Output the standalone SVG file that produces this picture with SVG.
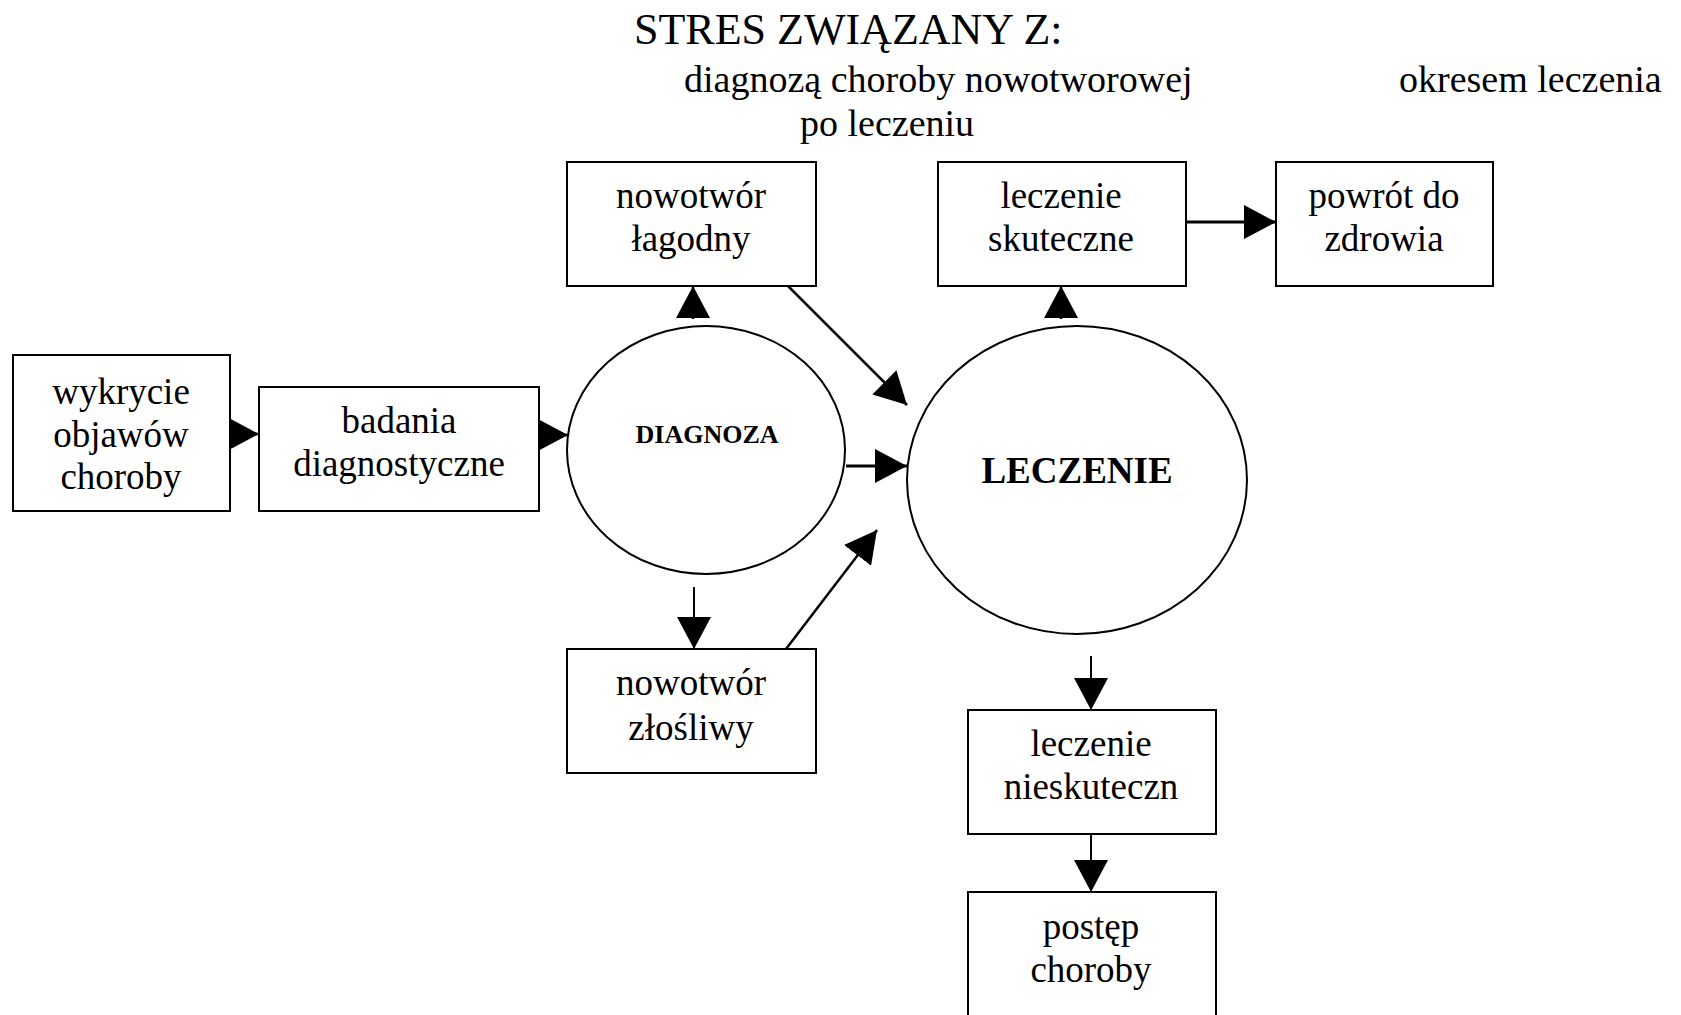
<svg xmlns="http://www.w3.org/2000/svg" width="1681" height="1015" viewBox="0 0 1681 1015">
<style>
.box{fill:#fff;stroke:#000;stroke-width:2}
.ell{fill:#fff;stroke:#000;stroke-width:2}
.t{font-family:"Liberation Serif","Times New Roman",serif;font-size:37px;fill:#000;text-anchor:middle}
.top{font-family:"Liberation Serif","Times New Roman",serif;font-size:38px;fill:#000}
.b{font-family:"Liberation Serif","Times New Roman",serif;font-weight:bold;fill:#000;text-anchor:middle}
.c{stroke:#000;stroke-width:2.5;fill:none;marker-end:url(#ah)}
</style>
<defs>
<marker id="ah" viewBox="0 0 32 34" refX="32" refY="17" markerWidth="32" markerHeight="34" markerUnits="userSpaceOnUse" orient="auto">
<path d="M0,0 L32,17 L0,34 Z" fill="#000"/>
</marker>
</defs>
<g id="titles">
<text x="634" y="44" style="font-family:'Liberation Serif','Times New Roman',serif;font-size:44px">STRES ZWIĄZANY Z:</text>
<text class="top" x="684" y="92">diagnozą choroby nowotworowej</text>
<text class="top" x="1399" y="92">okresem leczenia</text>
<text class="top" x="800" y="136">po leczeniu</text>
</g>
<g id="connectors">
<line class="c" x1="226" y1="434" x2="259" y2="434"/>
<line class="c" x1="534" y1="435" x2="568" y2="435"/>
<line class="c" x1="693" y1="319" x2="693" y2="286"/>
<line class="c" x1="786" y1="284" x2="907" y2="405"/>
<line class="c" x1="846" y1="466" x2="907" y2="466" style="stroke-width:3"/>
<line class="c" x1="786" y1="649" x2="877" y2="530"/>
<line class="c" x1="694" y1="587" x2="694" y2="649" style="stroke-width:2"/>
<line class="c" x1="1061" y1="319" x2="1061" y2="286"/>
<line class="c" x1="1186" y1="222" x2="1276" y2="222" style="stroke-width:3"/>
<line class="c" x1="1091" y1="656" x2="1091" y2="710" style="stroke-width:2"/>
<line class="c" x1="1091" y1="831" x2="1091" y2="892" style="stroke-width:2"/>
</g>
<g id="n-wykrycie">
<rect class="box" x="13" y="355" width="217" height="156"/>
<text class="t" x="121" y="404">wykrycie</text>
<text class="t" x="121" y="447">objawów</text>
<text class="t" x="121" y="489">choroby</text>
</g>
<g id="n-badania">
<rect class="box" x="259" y="387" width="280" height="124"/>
<text class="t" x="399" y="433">badania</text>
<text class="t" x="399" y="476">diagnostyczne</text>
</g>
<g id="n-lagodny">
<rect class="box" x="567" y="162" width="249" height="124"/>
<text class="t" x="691" y="208">nowotwór</text>
<text class="t" x="691" y="251">łagodny</text>
</g>
<g id="n-skuteczne">
<rect class="box" x="938" y="162" width="248" height="124"/>
<text class="t" x="1061" y="208">leczenie</text>
<text class="t" x="1061" y="251">skuteczne</text>
</g>
<g id="n-powrot">
<rect class="box" x="1276" y="162" width="217" height="124"/>
<text class="t" x="1384" y="208">powrót do</text>
<text class="t" x="1384" y="251">zdrowia</text>
</g>
<g id="n-diagnoza">
<ellipse class="ell" cx="706" cy="450" rx="139" ry="124"/>
<text class="b" x="707" y="443" font-size="26">DIAGNOZA</text>
</g>
<g id="n-leczenie">
<ellipse class="ell" cx="1077" cy="480" rx="170" ry="154"/>
<text class="b" x="1077" y="483" font-size="37">LECZENIE</text>
</g>
<g id="n-zlosliwy">
<rect class="box" x="567" y="649" width="249" height="124"/>
<text class="t" x="691" y="695">nowotwór</text>
<text class="t" x="691" y="740">złośliwy</text>
</g>
<g id="n-nieskuteczne">
<rect class="box" x="968" y="710" width="248" height="124"/>
<text class="t" x="1091" y="756">leczenie</text>
<text class="t" x="1091" y="799">nieskuteczn</text>
</g>
<g id="n-postep">
<rect class="box" x="968" y="892" width="248" height="140"/>
<text class="t" x="1091" y="939">postęp</text>
<text class="t" x="1091" y="982">choroby</text>
</g>
</svg>
